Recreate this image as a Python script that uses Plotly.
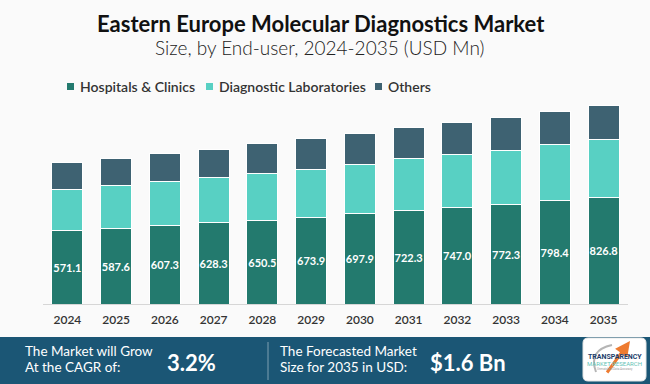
import plotly.graph_objects as go

# ---------------- data ----------------
years = ["2024", "2025", "2026", "2027", "2028", "2029",
         "2030", "2031", "2032", "2033", "2034", "2035"]
hospitals_clinics = [571.1, 587.6, 607.3, 628.3, 650.5, 673.9,
                     697.9, 722.3, 747.0, 772.3, 798.4, 826.8]
diagnostic_labs = [318, 333, 341, 349, 364, 372, 387, 403, 411, 418, 434, 449]
others = [206, 210, 218, 222, 226, 236, 238, 242, 252, 254, 260, 262]

series_names = ["Hospitals & Clinics", "Diagnostic Laboratories", "Others"]
series_colors = ["#237a6e", "#58d0c3", "#3e6272"]

title_text = "Eastern Europe Molecular Diagnostics Market"
subtitle_text = "Size, by End-user, 2024-2035 (USD Mn)"
cagr_label = ["The Market will Grow", "At the CAGR of:"]
cagr_value = "3.2%"
size_label = ["The Forecasted Market", "Size for 2035 in USD:"]
size_value = "$1.6 Bn"

# ---------------- geometry helpers ----------------
W, H = 650, 384
ML, MR, MT, MB = 43, 22, 100, 80
PW, PH = W - ML - MR, H - MT - MB


def px(x):
    return (x - ML) / PW


def py(y):
    return (H - MB - y) / PH


fig = go.Figure()
for name, vals, col in zip(series_names, [hospitals_clinics, diagnostic_labs, others], series_colors):
    is_first = name == series_names[0]
    fig.add_trace(go.Bar(
        x=years, y=vals, name=name,
        marker=dict(color=col, line=dict(color="white", width=1)),
        text=[f"{v:.1f}" for v in vals] if is_first else None,
        textposition="inside" if is_first else "none",
        insidetextanchor="middle",
        textangle=0,
        constraintext="none",
        textfont=dict(family="Lato", size=11, color="white", weight="bold"),
        showlegend=False,
        hoverinfo="skip",
    ))

shapes = []
annotations = []

# title and subtitle
annotations.append(dict(x=px(321), y=py(23), xref="paper", yref="paper", text=f"<b>{title_text}</b>",
                        showarrow=False, xanchor="center", yanchor="middle",
                        font=dict(family="Lato", size=22, color="#111111")))
annotations.append(dict(x=px(319), y=py(47), xref="paper", yref="paper", text=subtitle_text,
                        showarrow=False, xanchor="center", yanchor="middle",
                        font=dict(family="Lato", size=19, color="#222222", weight=300)))

# manual legend
leg_sq = [67, 206, 375]
for name, col, sx in zip(series_names, series_colors, leg_sq):
    shapes.append(dict(type="rect", xref="paper", yref="paper",
                       x0=px(sx), x1=px(sx + 7), y0=py(90), y1=py(83),
                       fillcolor=col, line=dict(width=0)))
    annotations.append(dict(x=px(sx + 11), y=py(86.5), xref="paper", yref="paper", text=name,
                            showarrow=False, xanchor="left", yanchor="middle",
                            font=dict(family="Lato", size=14, color="#333333", weight=600)))

# bottom banner
shapes.append(dict(type="rect", xref="paper", yref="paper", layer="below",
                   x0=px(0), x1=px(W), y0=py(H), y1=py(337),
                   fillcolor="#1b5675", line=dict(width=0)))
shapes.append(dict(type="line", xref="paper", yref="paper",
                   x0=px(268), x1=px(268), y0=py(342), y1=py(380),
                   line=dict(color="#7f9fb2", width=1)))

line_y = [351, 366.5]
for i, line in enumerate(cagr_label):
    annotations.append(dict(x=px(23), y=py(line_y[i]), xref="paper", yref="paper", text=line,
                            showarrow=False, xanchor="left", yanchor="middle",
                            font=dict(family="Lato", size=13.5, color="white")))
annotations.append(dict(x=px(165), y=py(362), xref="paper", yref="paper", text=f"<b>{cagr_value}</b>",
                        showarrow=False, xanchor="left", yanchor="middle",
                        font=dict(family="Lato", size=22, color="white")))
for i, line in enumerate(size_label):
    annotations.append(dict(x=px(278), y=py(line_y[i]), xref="paper", yref="paper", text=line,
                            showarrow=False, xanchor="left", yanchor="middle",
                            font=dict(family="Lato", size=13.5, color="white")))
annotations.append(dict(x=px(428), y=py(362), xref="paper", yref="paper", text=f"<b>{size_value}</b>",
                        showarrow=False, xanchor="left", yanchor="middle",
                        font=dict(family="Lato", size=22, color="white")))

# logo box (rounded rectangle)
lx0, lx1, ly0, ly1, r = 583, 646, 338, 381, 5


def P(x, y):
    return f"{px(x):.5f},{py(y):.5f}"


path = (f"M{P(lx0 + r, ly0)} L{P(lx1 - r, ly0)} Q{P(lx1, ly0)} {P(lx1, ly0 + r)} "
        f"L{P(lx1, ly1 - r)} Q{P(lx1, ly1)} {P(lx1 - r, ly1)} "
        f"L{P(lx0 + r, ly1)} Q{P(lx0, ly1)} {P(lx0, ly1 - r)} "
        f"L{P(lx0, ly0 + r)} Q{P(lx0, ly0)} {P(lx0 + r, ly0)} Z")
shapes.append(dict(type="path", xref="paper", yref="paper", path=path,
                   fillcolor="white", line=dict(color="#e6e6e6", width=1)))
# gray arc
arc = f"M{P(596, 372)} Q{P(588, 350)} {P(612, 345)}"
shapes.append(dict(type="path", xref="paper", yref="paper", path=arc,
                   line=dict(color="#b5b5b5", width=2)))
annotations.append(dict(x=px(630), y=py(341), ax=-24, ay=33,
                        xref="paper", yref="paper", axref="pixel", ayref="pixel",
                        text="", showarrow=True, arrowhead=2, arrowsize=1, arrowwidth=3,
                        arrowcolor="#ee7b30"))
annotations.append(dict(x=px(614.5), y=py(356.5), xref="paper", yref="paper", text="<b>TRANSPARENCY</b>",
                        showarrow=False, xanchor="center", yanchor="middle",
                        font=dict(family="Roboto", size=7, color="#1d3d6b")))
annotations.append(dict(x=px(614.5), y=py(363.5), xref="paper", yref="paper", text="MARKET RESEARCH",
                        showarrow=False, xanchor="center", yanchor="middle",
                        font=dict(family="Roboto", size=6, color="#5fc3b5")))
annotations.append(dict(x=px(614.5), y=py(368.5), xref="paper", yref="paper", text="Unmatched Data Accuracy",
                        showarrow=False, xanchor="center", yanchor="middle",
                        font=dict(family="Roboto", size=3, color="#999999")))

fig.update_layout(
    width=W, height=H,
    margin=dict(l=ML, r=MR, t=MT, b=MB, pad=0),
    barmode="stack",
    bargap=0.364,
    paper_bgcolor="#fafafa",
    plot_bgcolor="#fafafa",
    showlegend=False,
    shapes=shapes,
    annotations=annotations,
    xaxis=dict(
        type="category", range=[-0.5, 11.5], showgrid=False, zeroline=False,
        showline=True, linecolor="#d6d6d6", linewidth=1,
        ticks="outside", ticklen=5, tickcolor="rgba(0,0,0,0)",
        tickfont=dict(family="Lato", size=12, color="#333333", weight=600),
        fixedrange=True,
    ),
    yaxis=dict(range=[0, 1581], visible=False, showgrid=False, zeroline=False, fixedrange=True),
)

fig.write_html("out.html", config={"displayModeBar": False},
               post_script="document.body.style.margin='0';document.body.style.overflow='hidden';")
